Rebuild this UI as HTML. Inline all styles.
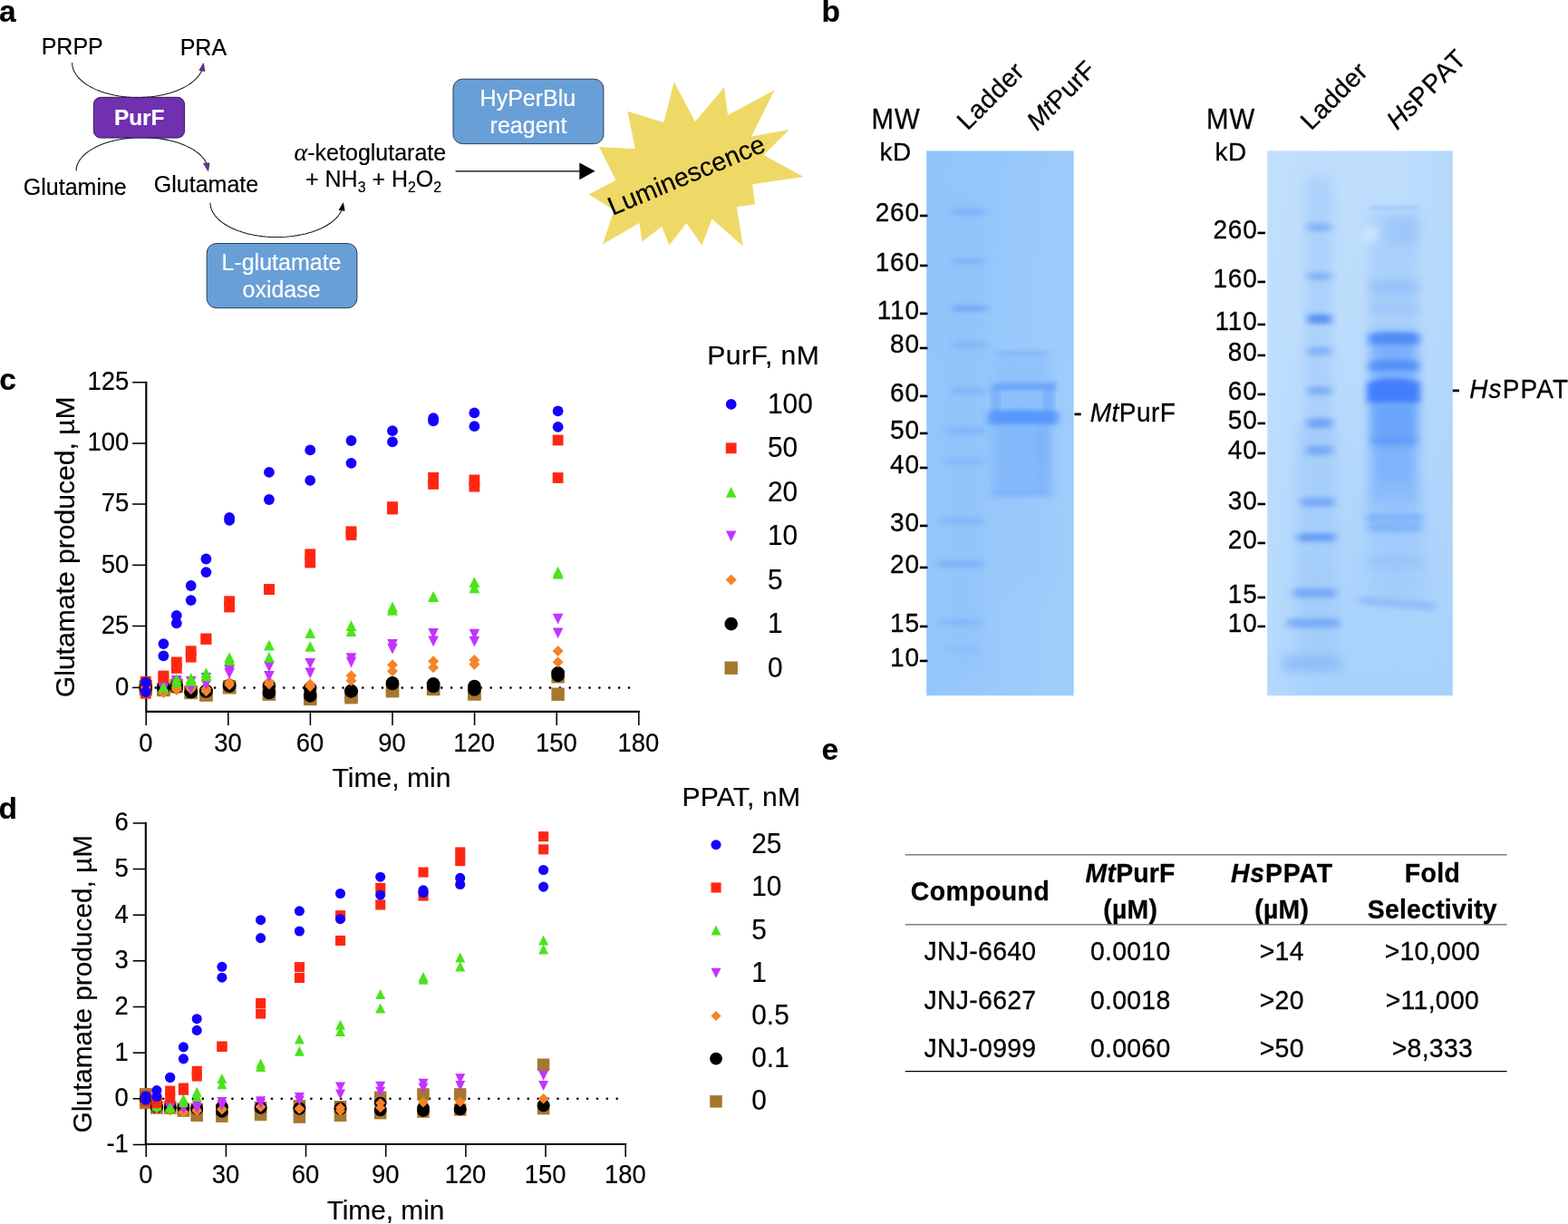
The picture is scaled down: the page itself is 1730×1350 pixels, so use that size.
<!DOCTYPE html>
<html lang="en">
<head>
<meta charset="utf-8">
<title>Figure</title>
<style>
html,body{margin:0;padding:0;background:#fff;}
body{width:1730px;height:1350px;overflow:hidden;}
svg{display:block;}
svg text{font-family:"Liberation Sans",sans-serif;stroke:#000;stroke-width:0.18px;stroke-linejoin:round;}
svg text[fill="#fff"]{stroke:#fff;}
svg g.hv text{stroke-width:0.28px;}
</style>
</head>
<body>
<svg width="1730" height="1350" viewBox="0 0 1730 1350" font-family='"Liberation Sans", sans-serif'>
<defs>
<filter id="b1" x="-20%" y="-200%" width="140%" height="500%"><feGaussianBlur stdDeviation="3 1.6"/></filter>
<filter id="b2" x="-20%" y="-200%" width="140%" height="500%"><feGaussianBlur stdDeviation="4 2.5"/></filter>
<filter id="b3" x="-30%" y="-50%" width="160%" height="200%"><feGaussianBlur stdDeviation="6 6"/></filter>
<filter id="b4" x="-30%" y="-50%" width="160%" height="200%"><feGaussianBlur stdDeviation="10 10"/></filter>
<clipPath id="g1c"><rect x="1022" y="166.5" width="162.5" height="600.8"/></clipPath>
<clipPath id="g2c"><rect x="1398" y="166.5" width="205" height="600.8"/></clipPath>
</defs>
<rect width="1730" height="1350" fill="#fff"/>
<g>
<path d="M79.60,69.30 L79.74,71.63 L80.14,73.96 L80.81,76.26 L81.75,78.54 L82.95,80.79 L84.41,82.99 L86.12,85.14 L88.07,87.23 L90.27,89.26 L92.69,91.21 L95.34,93.08 L98.20,94.86 L101.25,96.55 L104.50,98.13 L107.93,99.61 L111.51,100.97 L115.25,102.21 L119.13,103.34 L123.13,104.33 L127.24,105.20 L131.44,105.93 L135.71,106.52 L140.05,106.98 L144.43,107.29 L148.84,107.46 L153.26,107.49 L157.68,107.38 L162.08,107.13 L166.43,106.73 L170.74,106.20 L174.97,105.53 L179.12,104.72 L183.17,103.78 L187.10,102.71 L190.90,101.52 L194.56,100.20 L198.05,98.78 L201.38,97.24 L204.52,95.60 L207.46,93.85 L210.20,92.02 L212.72,90.11 L215.01,88.11 L217.07,86.05 L218.89,83.92 L220.46,81.74 L221.77,79.51 L222.82,77.24" fill="none" stroke="#161616" stroke-width="1.05" stroke-linejoin="round"/>
<polygon points="224.4,69.8 219.9,77.6 226.0,78.4" fill="#7030a0" stroke="#2b1440" stroke-width="0.7" stroke-linejoin="miter"/>
<path d="M84.10,188.40 L84.23,186.17 L84.64,183.94 L85.30,181.73 L86.24,179.55 L87.43,177.40 L88.88,175.29 L90.58,173.22 L92.52,171.22 L94.70,169.27 L97.11,167.40 L99.75,165.61 L102.59,163.90 L105.63,162.27 L108.86,160.75 L112.27,159.33 L115.84,158.01 L119.56,156.81 L123.43,155.72 L127.41,154.75 L131.50,153.91 L135.69,153.20 L139.96,152.61 L144.28,152.16 L148.66,151.84 L153.06,151.65 L157.48,151.60 L161.90,151.69 L166.30,151.91 L170.66,152.26 L174.97,152.75 L179.22,153.37 L183.38,154.12 L187.45,155.00 L191.40,156.00 L195.23,157.11 L198.92,158.35 L202.45,159.69 L205.81,161.14 L208.99,162.69 L211.98,164.34 L214.77,166.07 L217.34,167.89 L219.69,169.78 L221.81,171.74 L223.69,173.76 L225.33,175.84 L226.71,177.96 L227.83,180.12" fill="none" stroke="#161616" stroke-width="1.05" stroke-linejoin="round"/>
<polygon points="229.7,188.6 224.5,180.2 230.9,179.9" fill="#7030a0" stroke="#2b1440" stroke-width="0.7" stroke-linejoin="miter"/>
<path d="M232.00,223.70 L232.14,226.01 L232.55,228.32 L233.23,230.61 L234.18,232.87 L235.39,235.10 L236.87,237.28 L238.60,239.42 L240.58,241.49 L242.80,243.50 L245.26,245.44 L247.93,247.29 L250.83,249.06 L253.92,250.73 L257.21,252.30 L260.68,253.77 L264.31,255.12 L268.10,256.36 L272.02,257.47 L276.07,258.46 L280.23,259.31 L284.48,260.04 L288.81,260.63 L293.20,261.08 L297.64,261.39 L302.10,261.56 L306.58,261.59 L311.05,261.48 L315.50,261.23 L319.91,260.84 L324.27,260.31 L328.56,259.64 L332.76,258.84 L336.86,257.91 L340.84,256.85 L344.68,255.66 L348.38,254.36 L351.92,252.94 L355.29,251.42 L358.47,249.79 L361.45,248.06 L364.22,246.24 L366.77,244.34 L369.10,242.36 L371.18,240.31 L373.02,238.20 L374.61,236.04 L375.93,233.83 L377.00,231.58" fill="none" stroke="#161616" stroke-width="1.05" stroke-linejoin="round"/>
<polygon points="378.6,223.8 374.1,231.5 380.2,232.3" fill="#000" stroke="#000" stroke-width="0.7" stroke-linejoin="miter"/>
<rect x="103.3" y="107.3" width="100.3" height="44.8" rx="7.8" ry="7.8" fill="#7030b0" stroke="#2a1040" stroke-width="0.9"/>
<text x="153.7" y="137.8" font-size="24.4" text-anchor="middle" font-weight="bold" fill="#fff" >PurF</text>
<text x="45.7" y="60.3" font-size="25" text-anchor="start" font-weight="normal" fill="#000" >PRPP</text>
<text x="198.7" y="61.1" font-size="25" text-anchor="start" font-weight="normal" fill="#000" >PRA</text>
<text x="25.8" y="215.1" font-size="25" text-anchor="start" font-weight="normal" fill="#000" >Glutamine</text>
<text x="169.8" y="212.2" font-size="25" text-anchor="start" font-weight="normal" fill="#000" >Glutamate</text>
<text x="324.6" y="176.8" font-size="25"><tspan font-family='"Liberation Serif", "DejaVu Serif", serif' font-style="italic" font-size="28">α</tspan>-ketoglutarate</text>
<text x="337.0" y="206.3" font-size="25">+ NH<tspan font-size="15.8" dy="5.2">3</tspan><tspan dy="-5.2"> + H</tspan><tspan font-size="15.8" dy="5.2">2</tspan><tspan dy="-5.2">O</tspan><tspan font-size="15.8" dy="5.2">2</tspan></text>
<rect x="228.2" y="268.5" width="165.7" height="71.2" rx="10.5" ry="10.5" fill="#699fd7" stroke="#1c2e45" stroke-width="0.9"/>
<text x="310.5" y="297.9" font-size="25" text-anchor="middle" font-weight="normal" fill="#fff" >L-glutamate</text>
<text x="310.6" y="327.7" font-size="25" text-anchor="middle" font-weight="normal" fill="#fff" >oxidase</text>
<rect x="500.0" y="87.2" width="165.9" height="71.4" rx="10.5" ry="10.5" fill="#699fd7" stroke="#1c2e45" stroke-width="0.9"/>
<text x="582.4" y="116.7" font-size="25" text-anchor="middle" font-weight="normal" fill="#fff" >HyPerBlu</text>
<text x="583.0" y="146.5" font-size="25" text-anchor="middle" font-weight="normal" fill="#fff" >reagent</text>
<line x1="502.6" y1="188.8" x2="642" y2="188.8" stroke="#000" stroke-width="1.3"/>
<polygon points="656.6,188.8 639.3,179.4 639.3,198.2" fill="#000"/>
<polygon points="743.7,90.5 767.0,134.1 799.0,96.2 803.1,126.9 854.6,99.2 829.1,150.6 870.7,143.1 842.6,170.9 886.5,195.0 830.1,203.2 833.1,225.5 812.8,228.0 819.9,271.6 785.5,241.6 774.5,270.6 757.2,246.1 738.4,270.6 730.2,249.8 708.4,266.4 705.4,246.1 664.8,269.4 677.6,231.8 649.8,214.5 679.4,198.7 661.0,161.9 700.9,164.2 692.3,122.8 732.4,134.9" fill="#efd966"/>
<text transform="translate(675.8 238.0) rotate(-22.8)" font-size="28.7">Luminescence</text>
</g>
<g class="hv">
<linearGradient id="g1g" x1="0" y1="0" x2="1" y2="0.35"><stop offset="0" stop-color="#92c4fb"/><stop offset="0.5" stop-color="#97c8fb"/><stop offset="1" stop-color="#9eccfb"/></linearGradient>
<rect x="1022.2" y="166.4" width="162.5" height="600.8" fill="url(#g1g)"/>
<g clip-path="url(#g1c)">
<rect x="1048.0" y="220.0" width="36.0" height="520.0" rx="3.0" fill="#8cbdf9" opacity="0.3" filter="url(#b3)"/>
<rect x="1051.5" y="230.0" width="36.0" height="7.0" rx="3.0" fill="#6fa6f8" opacity="0.6" filter="url(#b2)"/>
<rect x="1051.5" y="285.1" width="36.0" height="7.0" rx="3.0" fill="#6fa6f8" opacity="0.5" filter="url(#b2)"/>
<rect x="1050.5" y="336.7" width="38.0" height="7.0" rx="3.0" fill="#6fa6f8" opacity="0.9" filter="url(#b2)"/>
<rect x="1051.5" y="376.9" width="36.0" height="7.0" rx="3.0" fill="#6fa6f8" opacity="0.45" filter="url(#b2)"/>
<rect x="1049.5" y="427.5" width="37.0" height="7.0" rx="3.0" fill="#6fa6f8" opacity="0.5" filter="url(#b2)"/>
<rect x="1044.5" y="471.4" width="42.0" height="7.0" rx="3.0" fill="#6fa6f8" opacity="0.55" filter="url(#b2)"/>
<rect x="1041.5" y="505.9" width="44.0" height="7.0" rx="3.0" fill="#6fa6f8" opacity="0.4" filter="url(#b2)"/>
<rect x="1037.5" y="571.3" width="47.0" height="7.0" rx="3.0" fill="#6fa6f8" opacity="0.5" filter="url(#b2)"/>
<rect x="1034.5" y="618.4" width="51.0" height="7.0" rx="3.0" fill="#6fa6f8" opacity="0.65" filter="url(#b2)"/>
<rect x="1035.5" y="682.7" width="47.0" height="7.0" rx="3.0" fill="#6fa6f8" opacity="0.4" filter="url(#b2)"/>
<rect x="1039.5" y="712.5" width="42.0" height="7.0" rx="3.0" fill="#6fa6f8" opacity="0.2" filter="url(#b2)"/>
<rect x="1095.0" y="466.0" width="64.0" height="80.0" rx="3.0" fill="#7cb2fa" opacity="0.75" filter="url(#b3)"/>
<rect x="1145.5" y="460.0" width="13.0" height="76.0" rx="3.0" fill="#72aaf9" opacity="0.35" filter="url(#b3)"/>
<rect x="1099.0" y="394.0" width="58.0" height="36.0" rx="3.0" fill="#86b8fa" opacity="0.45" filter="url(#b3)"/>
<rect x="1098.5" y="387.6" width="60.0" height="5.5" rx="2.8" fill="#74aaf8" opacity="0.6" filter="url(#b2)"/>
<rect x="1099.0" y="434.0" width="60.0" height="16.0" rx="3.0" fill="#86b9fb" opacity="0.6" filter="url(#b2)"/>
<rect x="1094.0" y="428.0" width="9.0" height="30.0" rx="3.0" fill="#69a4fb" opacity="0.75" filter="url(#b2)"/>
<rect x="1152.5" y="424.0" width="10.0" height="34.0" rx="3.0" fill="#69a4fb" opacity="0.75" filter="url(#b2)"/>
<rect x="1156.5" y="419.5" width="8.0" height="6.0" rx="3.0" fill="#69a4fb" opacity="0.6" filter="url(#b2)"/>
<path d="M1094.0 423.4 Q1129.0 420.8 1164.0 423.4 L1164.0 431.2 Q1129.0 430.4 1094.0 431.2 Z" fill="#66a2fb" opacity="0.9" filter="url(#b2)"/>
<path d="M1090.0 453.5 Q1128.5 449.6 1167.0 453.5 L1167.0 468.4 Q1128.5 467.2 1090.0 468.4 Z" fill="#5c9bfc" opacity="1.0" filter="url(#b2)"/>
<rect x="1096.5" y="455.5" width="64.0" height="10.0" rx="3.0" fill="#5596fc" opacity="0.8" filter="url(#b2)"/>
<rect x="1093.0" y="539.8" width="68.0" height="7.5" rx="3.0" fill="#78aef9" opacity="0.6" filter="url(#b2)"/>
<rect x="1098.0" y="560.0" width="60.0" height="80.0" rx="3.0" fill="#92c3fa" opacity="0.25" filter="url(#b4)"/>
</g>
<linearGradient id="g2g" x1="0" y1="0" x2="0" y2="1"><stop offset="0" stop-color="#bfdefd"/><stop offset="0.3" stop-color="#bcdcfc"/><stop offset="0.6" stop-color="#b3d8fc"/><stop offset="1" stop-color="#a7d2fc"/></linearGradient>
<linearGradient id="g2h" x1="0" y1="0" x2="1" y2="0"><stop offset="0" stop-color="#c4e2fe" stop-opacity="0.5"/><stop offset="0.25" stop-color="#c4e2fe" stop-opacity="0"/><stop offset="0.7" stop-color="#a9d2fb" stop-opacity="0"/><stop offset="1" stop-color="#a9d2fb" stop-opacity="0.45"/></linearGradient>
<rect x="1398.3" y="166.4" width="204.5" height="600.8" fill="url(#g2g)"/>
<rect x="1398.3" y="166.4" width="204.5" height="600.8" fill="url(#g2h)"/>
<g clip-path="url(#g2c)">
<rect x="1441.0" y="195.0" width="28.0" height="300.0" rx="3.0" fill="#a1caf9" opacity="0.6" filter="url(#b3)"/>
<rect x="1431.0" y="470.0" width="44.0" height="260.0" rx="3.0" fill="#9dc8f9" opacity="0.55" filter="url(#b3)"/>
<rect x="1442.0" y="246.4" width="26.0" height="8.5" rx="3.0" fill="#5b93f5" opacity="0.5" filter="url(#b2)"/>
<rect x="1443.0" y="300.4" width="26.0" height="8.5" rx="3.0" fill="#5b93f5" opacity="0.5" filter="url(#b2)"/>
<rect x="1443.0" y="346.4" width="26.0" height="10.5" rx="3.0" fill="#5b93f5" opacity="1.0" filter="url(#b2)"/>
<rect x="1443.0" y="382.8" width="26.0" height="9.0" rx="3.0" fill="#5b93f5" opacity="0.5" filter="url(#b2)"/>
<rect x="1443.0" y="426.2" width="26.0" height="9.5" rx="3.0" fill="#5b93f5" opacity="0.55" filter="url(#b2)"/>
<rect x="1442.0" y="461.6" width="28.0" height="10.5" rx="3.0" fill="#5b93f5" opacity="0.7" filter="url(#b2)"/>
<rect x="1441.0" y="491.4" width="29.0" height="10.5" rx="3.0" fill="#5b93f5" opacity="0.6" filter="url(#b2)"/>
<rect x="1436.0" y="548.5" width="36.0" height="10.5" rx="3.0" fill="#5b93f5" opacity="0.6" filter="url(#b2)"/>
<rect x="1432.0" y="588.0" width="41.0" height="9.5" rx="3.0" fill="#5b93f5" opacity="0.8" filter="url(#b2)"/>
<rect x="1427.0" y="648.8" width="47.0" height="10.5" rx="3.0" fill="#5b93f5" opacity="0.6" filter="url(#b2)"/>
<rect x="1420.0" y="682.0" width="58.0" height="10.5" rx="3.0" fill="#5b93f5" opacity="0.55" filter="url(#b2)"/>
<rect x="1415.0" y="723.5" width="64.0" height="17.0" rx="3.0" fill="#86b6f8" opacity="0.75" filter="url(#b3)"/>
<rect x="1511.0" y="235.0" width="54.0" height="130.0" rx="3.0" fill="#a3ccfa" opacity="0.7" filter="url(#b3)"/>
<rect x="1532.0" y="239.0" width="32.0" height="30.0" rx="3.0" fill="#96c0f8" opacity="0.6" filter="url(#b3)"/>
<rect x="1511.5" y="227.7" width="54.0" height="3.0" rx="1.5" fill="#93bdf7" opacity="0.7" filter="url(#b1)"/>
<circle cx="1512.5" cy="258" r="7" fill="#e8f3fe" opacity="0.9" filter="url(#b3)"/>
<rect x="1512.0" y="365.0" width="52.0" height="86.0" rx="3.0" fill="#6ea9fc" opacity="0.85" filter="url(#b3)"/>
<rect x="1512.0" y="440.0" width="52.0" height="120.0" rx="3.0" fill="#73abfb" opacity="0.8" filter="url(#b3)"/>
<rect x="1514.0" y="445.0" width="48.0" height="46.0" rx="3.0" fill="#5f9dfb" opacity="0.65" filter="url(#b3)"/>
<rect x="1510.0" y="535.0" width="60.0" height="130.0" rx="3.0" fill="#9ac7fa" opacity="0.6" filter="url(#b4)"/>
<rect x="1511.0" y="311.3" width="54.0" height="12.0" rx="3.0" fill="#84b4f8" opacity="0.65" filter="url(#b3)"/>
<rect x="1511.0" y="334.5" width="54.0" height="10.0" rx="3.0" fill="#8ab8f9" opacity="0.55" filter="url(#b3)"/>
<path d="M1511.0 368.1 Q1538.0 365.0 1565.0 368.1 L1565.0 379.8 Q1538.0 378.8 1511.0 379.8 Z" fill="#4f89f6" opacity="0.95" filter="url(#b2)"/>
<path d="M1511.0 398.8 Q1538.0 394.9 1565.0 398.8 L1565.0 409.2 Q1538.0 408.0 1511.0 409.2 Z" fill="#538df7" opacity="0.9" filter="url(#b2)"/>
<path d="M1509.5 421.3 Q1537.5 413.5 1565.5 421.3 L1565.5 444.2 Q1537.5 441.8 1509.5 444.2 Z" fill="#4680fc" opacity="1.0" filter="url(#b2)"/>
<rect x="1512.5" y="424.0" width="50.0" height="17.0" rx="3.0" fill="#437efd" opacity="0.85" filter="url(#b2)"/>
<rect x="1513.0" y="482.0" width="50.0" height="8.0" rx="3.0" fill="#5793f9" opacity="0.5" filter="url(#b2)"/>
<rect x="1509.0" y="567.1" width="60.0" height="8.5" rx="3.0" fill="#6ea5f8" opacity="0.8" filter="url(#b2)"/>
<rect x="1510.0" y="565.0" width="58.0" height="22.0" rx="3.0" fill="#8ab9fa" opacity="0.6" filter="url(#b3)"/>
<rect x="1510.0" y="577.8" width="58.0" height="8.5" rx="3.0" fill="#76abf8" opacity="0.65" filter="url(#b2)"/>
<rect x="1506.0" y="612.4" width="66.0" height="12.0" rx="3.0" fill="#8ebbf9" opacity="0.55" filter="url(#b3)"/>
<rect x="1500.0" y="660.5" width="84.0" height="10.0" rx="3.0" fill="#8bb9f9" opacity="0.75" filter="url(#b2)" transform="rotate(5 1542.0 665.5)"/>
</g>
<text transform="translate(988.6 141.8) scale(1.05 1.1)" font-size="28" text-anchor="middle" letter-spacing="1.0">MW</text>
<text transform="translate(988.2 177.3) scale(1.0 1.0)" font-size="28" text-anchor="middle" letter-spacing="0.5">kD</text>
<text transform="translate(1014.9 244.2) scale(1 1.08)" font-size="28" text-anchor="end" letter-spacing="0.85">260</text>
<text transform="translate(1013.4 245.3) scale(1.2 1)" font-size="28" text-anchor="start">-</text>
<text transform="translate(1014.9 299.0) scale(1 1.08)" font-size="28" text-anchor="end" letter-spacing="0.85">160</text>
<text transform="translate(1013.4 300.1) scale(1.2 1)" font-size="28" text-anchor="start">-</text>
<text transform="translate(1014.9 352.3) scale(1 1.08)" font-size="28" text-anchor="end" letter-spacing="0.85">110</text>
<text transform="translate(1013.4 353.4) scale(1.2 1)" font-size="28" text-anchor="start">-</text>
<text transform="translate(1014.9 389.4) scale(1 1.08)" font-size="28" text-anchor="end" letter-spacing="0.85">80</text>
<text transform="translate(1013.4 390.5) scale(1.2 1)" font-size="28" text-anchor="start">-</text>
<text transform="translate(1014.9 442.8) scale(1 1.08)" font-size="28" text-anchor="end" letter-spacing="0.85">60</text>
<text transform="translate(1013.4 443.9) scale(1.2 1)" font-size="28" text-anchor="start">-</text>
<text transform="translate(1014.9 484.2) scale(1 1.08)" font-size="28" text-anchor="end" letter-spacing="0.85">50</text>
<text transform="translate(1013.4 485.3) scale(1.2 1)" font-size="28" text-anchor="start">-</text>
<text transform="translate(1014.9 522.2) scale(1 1.08)" font-size="28" text-anchor="end" letter-spacing="0.85">40</text>
<text transform="translate(1013.4 523.3) scale(1.2 1)" font-size="28" text-anchor="start">-</text>
<text transform="translate(1014.9 585.9) scale(1 1.08)" font-size="28" text-anchor="end" letter-spacing="0.85">30</text>
<text transform="translate(1013.4 587.0) scale(1.2 1)" font-size="28" text-anchor="start">-</text>
<text transform="translate(1014.9 631.8) scale(1 1.08)" font-size="28" text-anchor="end" letter-spacing="0.85">20</text>
<text transform="translate(1013.4 632.9) scale(1.2 1)" font-size="28" text-anchor="start">-</text>
<text transform="translate(1014.9 696.9) scale(1 1.08)" font-size="28" text-anchor="end" letter-spacing="0.85">15</text>
<text transform="translate(1013.4 698.0) scale(1.2 1)" font-size="28" text-anchor="start">-</text>
<text transform="translate(1014.9 734.6) scale(1 1.08)" font-size="28" text-anchor="end" letter-spacing="0.85">10</text>
<text transform="translate(1013.4 735.7) scale(1.2 1)" font-size="28" text-anchor="start">-</text>
<text transform="translate(1067.6 144.7) rotate(-45)" font-size="28.4" letter-spacing="0.4">Ladder</text>
<text transform="translate(1144.2 145.0) rotate(-45)" font-size="28.2" letter-spacing="0.25"><tspan font-style="italic">Mt</tspan>PurF</text>
<text transform="translate(1184.6 465.2) scale(1.0 1.03)" font-size="28" text-anchor="start" letter-spacing="0.5">- <tspan font-style="italic">Mt</tspan>PurF</text>
<text transform="translate(1358.1 141.8) scale(1.05 1.1)" font-size="28" text-anchor="middle" letter-spacing="1.0">MW</text>
<text transform="translate(1358.0 177.3) scale(1.0 1.0)" font-size="28" text-anchor="middle" letter-spacing="0.5">kD</text>
<text transform="translate(1387.7 262.6) scale(1 1.08)" font-size="28" text-anchor="end" letter-spacing="0.85">260</text>
<text transform="translate(1386.3 263.7) scale(1.2 1)" font-size="28" text-anchor="start">-</text>
<text transform="translate(1387.7 317.1) scale(1 1.08)" font-size="28" text-anchor="end" letter-spacing="0.85">160</text>
<text transform="translate(1386.3 318.2) scale(1.2 1)" font-size="28" text-anchor="start">-</text>
<text transform="translate(1387.7 364.2) scale(1 1.08)" font-size="28" text-anchor="end" letter-spacing="0.85">110</text>
<text transform="translate(1386.3 365.3) scale(1.2 1)" font-size="28" text-anchor="start">-</text>
<text transform="translate(1387.7 397.7) scale(1 1.08)" font-size="28" text-anchor="end" letter-spacing="0.85">80</text>
<text transform="translate(1386.3 398.8) scale(1.2 1)" font-size="28" text-anchor="start">-</text>
<text transform="translate(1387.7 440.7) scale(1 1.08)" font-size="28" text-anchor="end" letter-spacing="0.85">60</text>
<text transform="translate(1386.3 441.8) scale(1.2 1)" font-size="28" text-anchor="start">-</text>
<text transform="translate(1387.7 473.3) scale(1 1.08)" font-size="28" text-anchor="end" letter-spacing="0.85">50</text>
<text transform="translate(1386.3 474.4) scale(1.2 1)" font-size="28" text-anchor="start">-</text>
<text transform="translate(1387.7 505.9) scale(1 1.08)" font-size="28" text-anchor="end" letter-spacing="0.85">40</text>
<text transform="translate(1386.3 507.0) scale(1.2 1)" font-size="28" text-anchor="start">-</text>
<text transform="translate(1387.7 562.2) scale(1 1.08)" font-size="28" text-anchor="end" letter-spacing="0.85">30</text>
<text transform="translate(1386.3 563.3) scale(1.2 1)" font-size="28" text-anchor="start">-</text>
<text transform="translate(1387.7 605.1) scale(1 1.08)" font-size="28" text-anchor="end" letter-spacing="0.85">20</text>
<text transform="translate(1386.3 606.2) scale(1.2 1)" font-size="28" text-anchor="start">-</text>
<text transform="translate(1387.7 665.2) scale(1 1.08)" font-size="28" text-anchor="end" letter-spacing="0.85">15</text>
<text transform="translate(1386.3 666.3) scale(1.2 1)" font-size="28" text-anchor="start">-</text>
<text transform="translate(1387.7 696.9) scale(1 1.08)" font-size="28" text-anchor="end" letter-spacing="0.85">10</text>
<text transform="translate(1386.3 698.0) scale(1.2 1)" font-size="28" text-anchor="start">-</text>
<text transform="translate(1446.5 144.7) rotate(-45)" font-size="28.4" letter-spacing="0.4">Ladder</text>
<text transform="translate(1541.6 144.3) rotate(-45)" font-size="28.6" letter-spacing="1.4"><tspan font-style="italic" letter-spacing="0">Hs</tspan>PPAT</text>
<text transform="translate(1601.8 439.0) scale(1.0 1.04)" font-size="28" text-anchor="start" letter-spacing="1.15">- <tspan font-style="italic">Hs</tspan>PPAT</text>
</g>
<g>
<line x1="160.9" y1="758.6" x2="695.0" y2="758.6" stroke="#000" stroke-width="2.7" stroke-linecap="round" stroke-dasharray="0 10.88"/>
<path d="M161.3 421.7 V784.9 H704.8" stroke="#000" stroke-width="2.1" fill="none" stroke-linecap="square"/>
<line x1="161.2" y1="784.9" x2="161.2" y2="799.9" stroke="#000" stroke-width="1.55" fill="none" stroke-linecap="butt"/>
<text transform="translate(160.8 828.9) scale(1 1.045)" font-size="27.4" text-anchor="middle" font-weight="normal" fill="#000" >0</text>
<line x1="251.8" y1="784.9" x2="251.8" y2="799.9" stroke="#000" stroke-width="1.55" fill="none" stroke-linecap="butt"/>
<text transform="translate(251.4 828.9) scale(1 1.045)" font-size="27.4" text-anchor="middle" font-weight="normal" fill="#000" >30</text>
<line x1="342.4" y1="784.9" x2="342.4" y2="799.9" stroke="#000" stroke-width="1.55" fill="none" stroke-linecap="butt"/>
<text transform="translate(342.0 828.9) scale(1 1.045)" font-size="27.4" text-anchor="middle" font-weight="normal" fill="#000" >60</text>
<line x1="433.0" y1="784.9" x2="433.0" y2="799.9" stroke="#000" stroke-width="1.55" fill="none" stroke-linecap="butt"/>
<text transform="translate(432.6 828.9) scale(1 1.045)" font-size="27.4" text-anchor="middle" font-weight="normal" fill="#000" >90</text>
<line x1="523.6" y1="784.9" x2="523.6" y2="799.9" stroke="#000" stroke-width="1.55" fill="none" stroke-linecap="butt"/>
<text transform="translate(523.2 828.9) scale(1 1.045)" font-size="27.4" text-anchor="middle" font-weight="normal" fill="#000" >120</text>
<line x1="614.2" y1="784.9" x2="614.2" y2="799.9" stroke="#000" stroke-width="1.55" fill="none" stroke-linecap="butt"/>
<text transform="translate(613.8 828.9) scale(1 1.045)" font-size="27.4" text-anchor="middle" font-weight="normal" fill="#000" >150</text>
<line x1="704.8" y1="784.9" x2="704.8" y2="799.9" stroke="#000" stroke-width="1.55" fill="none" stroke-linecap="butt"/>
<text transform="translate(704.4 828.9) scale(1 1.045)" font-size="27.4" text-anchor="middle" font-weight="normal" fill="#000" >180</text>
<line x1="146.1" y1="421.7" x2="161.3" y2="421.7" stroke="#000" stroke-width="1.55" fill="none" stroke-linecap="butt"/>
<text transform="translate(142.3 430.0) scale(1 1.045)" font-size="27.4" text-anchor="end" font-weight="normal" fill="#000" >125</text>
<line x1="146.1" y1="489.0" x2="161.3" y2="489.0" stroke="#000" stroke-width="1.55" fill="none" stroke-linecap="butt"/>
<text transform="translate(142.3 497.3) scale(1 1.045)" font-size="27.4" text-anchor="end" font-weight="normal" fill="#000" >100</text>
<line x1="146.1" y1="556.0" x2="161.3" y2="556.0" stroke="#000" stroke-width="1.55" fill="none" stroke-linecap="butt"/>
<text transform="translate(142.3 564.3) scale(1 1.045)" font-size="27.4" text-anchor="end" font-weight="normal" fill="#000" >75</text>
<line x1="146.1" y1="623.3" x2="161.3" y2="623.3" stroke="#000" stroke-width="1.55" fill="none" stroke-linecap="butt"/>
<text transform="translate(142.3 631.6) scale(1 1.045)" font-size="27.4" text-anchor="end" font-weight="normal" fill="#000" >50</text>
<line x1="146.1" y1="690.5" x2="161.3" y2="690.5" stroke="#000" stroke-width="1.55" fill="none" stroke-linecap="butt"/>
<text transform="translate(142.3 698.8) scale(1 1.045)" font-size="27.4" text-anchor="end" font-weight="normal" fill="#000" >25</text>
<line x1="146.1" y1="758.4" x2="161.3" y2="758.4" stroke="#000" stroke-width="1.55" fill="none" stroke-linecap="butt"/>
<text transform="translate(142.3 766.7) scale(1 1.045)" font-size="27.4" text-anchor="end" font-weight="normal" fill="#000" >0</text>
<rect x="153.6" y="749.8" width="14.4" height="14.4" fill="#a5772f"/>
<rect x="153.6" y="752.8" width="14.4" height="14.4" fill="#a5772f"/>
<rect x="173.2" y="752.8" width="14.4" height="14.4" fill="#a5772f"/>
<rect x="173.2" y="753.8" width="14.4" height="14.4" fill="#a5772f"/>
<rect x="187.6" y="748.8" width="14.4" height="14.4" fill="#a5772f"/>
<rect x="187.6" y="749.8" width="14.4" height="14.4" fill="#a5772f"/>
<rect x="203.5" y="755.8" width="14.4" height="14.4" fill="#a5772f"/>
<rect x="203.5" y="756.8" width="14.4" height="14.4" fill="#a5772f"/>
<rect x="220.2" y="758.5" width="14.4" height="14.4" fill="#a5772f"/>
<rect x="220.2" y="759.4" width="14.4" height="14.4" fill="#a5772f"/>
<rect x="245.9" y="750.4" width="14.4" height="14.4" fill="#a5772f"/>
<rect x="245.9" y="751.1" width="14.4" height="14.4" fill="#a5772f"/>
<rect x="289.7" y="757.3" width="14.4" height="14.4" fill="#a5772f"/>
<rect x="289.7" y="758.5" width="14.4" height="14.4" fill="#a5772f"/>
<rect x="335.0" y="762.0" width="14.4" height="14.4" fill="#a5772f"/>
<rect x="335.0" y="763.7" width="14.4" height="14.4" fill="#a5772f"/>
<rect x="380.3" y="760.2" width="14.4" height="14.4" fill="#a5772f"/>
<rect x="380.3" y="762.0" width="14.4" height="14.4" fill="#a5772f"/>
<rect x="425.8" y="754.2" width="14.4" height="14.4" fill="#a5772f"/>
<rect x="425.8" y="755.0" width="14.4" height="14.4" fill="#a5772f"/>
<rect x="470.9" y="752.4" width="14.4" height="14.4" fill="#a5772f"/>
<rect x="470.9" y="752.8" width="14.4" height="14.4" fill="#a5772f"/>
<rect x="516.2" y="757.8" width="14.4" height="14.4" fill="#a5772f"/>
<rect x="516.2" y="758.3" width="14.4" height="14.4" fill="#a5772f"/>
<rect x="608.4" y="739.1" width="14.4" height="14.4" fill="#a5772f"/>
<rect x="608.4" y="758.5" width="14.4" height="14.4" fill="#a5772f"/>
<circle cx="160.8" cy="758.0" r="7.3" fill="#000"/>
<circle cx="160.8" cy="759.0" r="7.3" fill="#000"/>
<circle cx="180.4" cy="758.0" r="7.3" fill="#000"/>
<circle cx="180.4" cy="759.0" r="7.3" fill="#000"/>
<circle cx="194.8" cy="757.0" r="7.3" fill="#000"/>
<circle cx="194.8" cy="758.0" r="7.3" fill="#000"/>
<circle cx="210.7" cy="763.0" r="7.3" fill="#000"/>
<circle cx="210.7" cy="763.0" r="7.3" fill="#000"/>
<circle cx="227.4" cy="762.0" r="7.3" fill="#000"/>
<circle cx="227.4" cy="762.5" r="7.3" fill="#000"/>
<circle cx="253.1" cy="756.0" r="7.3" fill="#000"/>
<circle cx="253.1" cy="756.5" r="7.3" fill="#000"/>
<circle cx="296.9" cy="756.2" r="7.3" fill="#000"/>
<circle cx="296.9" cy="764.0" r="7.3" fill="#000"/>
<circle cx="342.2" cy="758.8" r="7.3" fill="#000"/>
<circle cx="342.2" cy="767.4" r="7.3" fill="#000"/>
<circle cx="387.5" cy="762.0" r="7.3" fill="#000"/>
<circle cx="387.5" cy="762.4" r="7.3" fill="#000"/>
<circle cx="433.0" cy="753.4" r="7.3" fill="#000"/>
<circle cx="433.0" cy="754.0" r="7.3" fill="#000"/>
<circle cx="478.1" cy="754.4" r="7.3" fill="#000"/>
<circle cx="478.1" cy="757.0" r="7.3" fill="#000"/>
<circle cx="523.4" cy="757.0" r="7.3" fill="#000"/>
<circle cx="523.4" cy="760.5" r="7.3" fill="#000"/>
<circle cx="615.6" cy="742.3" r="7.3" fill="#000"/>
<circle cx="615.6" cy="744.9" r="7.3" fill="#000"/>
<polygon points="154.8,758.0 160.8,752.0 166.8,758.0 160.8,764.0" fill="#f58426"/>
<polygon points="154.8,760.0 160.8,754.0 166.8,760.0 160.8,766.0" fill="#f58426"/>
<polygon points="174.4,762.0 180.4,756.0 186.4,762.0 180.4,768.0" fill="#f58426"/>
<polygon points="174.4,764.0 180.4,758.0 186.4,764.0 180.4,770.0" fill="#f58426"/>
<polygon points="188.8,759.0 194.8,753.0 200.8,759.0 194.8,765.0" fill="#f58426"/>
<polygon points="188.8,761.0 194.8,755.0 200.8,761.0 194.8,767.0" fill="#f58426"/>
<polygon points="204.7,758.0 210.7,752.0 216.7,758.0 210.7,764.0" fill="#f58426"/>
<polygon points="204.7,760.0 210.7,754.0 216.7,760.0 210.7,766.0" fill="#f58426"/>
<polygon points="221.4,759.6 227.4,753.6 233.4,759.6 227.4,765.6" fill="#f58426"/>
<polygon points="221.4,762.2 227.4,756.2 233.4,762.2 227.4,768.2" fill="#f58426"/>
<polygon points="247.1,752.7 253.1,746.7 259.1,752.7 253.1,758.7" fill="#f58426"/>
<polygon points="247.1,755.3 253.1,749.3 259.1,755.3 253.1,761.3" fill="#f58426"/>
<polygon points="290.9,751.8 296.9,745.8 302.9,751.8 296.9,757.8" fill="#f58426"/>
<polygon points="290.9,754.4 296.9,748.4 302.9,754.4 296.9,760.4" fill="#f58426"/>
<polygon points="336.2,754.4 342.2,748.4 348.2,754.4 342.2,760.4" fill="#f58426"/>
<polygon points="336.2,757.0 342.2,751.0 348.2,757.0 342.2,763.0" fill="#f58426"/>
<polygon points="381.5,745.3 387.5,739.3 393.5,745.3 387.5,751.3" fill="#f58426"/>
<polygon points="381.5,750.8 387.5,744.8 393.5,750.8 387.5,756.8" fill="#f58426"/>
<polygon points="427.0,733.3 433.0,727.3 439.0,733.3 433.0,739.3" fill="#f58426"/>
<polygon points="427.0,740.2 433.0,734.2 439.0,740.2 433.0,746.2" fill="#f58426"/>
<polygon points="472.1,729.3 478.1,723.3 484.1,729.3 478.1,735.3" fill="#f58426"/>
<polygon points="472.1,736.2 478.1,730.2 484.1,736.2 478.1,742.2" fill="#f58426"/>
<polygon points="517.4,728.1 523.4,722.1 529.4,728.1 523.4,734.1" fill="#f58426"/>
<polygon points="517.4,732.8 523.4,726.8 529.4,732.8 523.4,738.8" fill="#f58426"/>
<polygon points="609.6,718.0 615.6,712.0 621.6,718.0 615.6,724.0" fill="#f58426"/>
<polygon points="609.6,730.2 615.6,724.2 621.6,730.2 615.6,736.2" fill="#f58426"/>
<polygon points="155.0,752.1 166.6,752.1 160.8,763.9" fill="#c433ff"/>
<polygon points="155.0,753.1 166.6,753.1 160.8,764.9" fill="#c433ff"/>
<polygon points="174.6,752.1 186.2,752.1 180.4,763.9" fill="#c433ff"/>
<polygon points="174.6,754.1 186.2,754.1 180.4,765.9" fill="#c433ff"/>
<polygon points="189.0,745.1 200.6,745.1 194.8,756.9" fill="#c433ff"/>
<polygon points="189.0,747.1 200.6,747.1 194.8,758.9" fill="#c433ff"/>
<polygon points="204.9,746.1 216.5,746.1 210.7,757.9" fill="#c433ff"/>
<polygon points="204.9,753.1 216.5,753.1 210.7,764.9" fill="#c433ff"/>
<polygon points="221.6,742.1 233.2,742.1 227.4,753.9" fill="#c433ff"/>
<polygon points="221.6,749.1 233.2,749.1 227.4,760.9" fill="#c433ff"/>
<polygon points="247.3,733.7 258.9,733.7 253.1,745.5" fill="#c433ff"/>
<polygon points="247.3,736.9 258.9,736.9 253.1,748.7" fill="#c433ff"/>
<polygon points="291.1,729.5 302.7,729.5 296.9,741.3" fill="#c433ff"/>
<polygon points="291.1,740.1 302.7,740.1 296.9,751.9" fill="#c433ff"/>
<polygon points="336.4,725.9 348.0,725.9 342.2,737.7" fill="#c433ff"/>
<polygon points="336.4,736.5 348.0,736.5 342.2,748.3" fill="#c433ff"/>
<polygon points="381.7,720.3 393.3,720.3 387.5,732.1" fill="#c433ff"/>
<polygon points="381.7,724.6 393.3,724.6 387.5,736.4" fill="#c433ff"/>
<polygon points="427.2,705.1 438.8,705.1 433.0,716.9" fill="#c433ff"/>
<polygon points="427.2,709.7 438.8,709.7 433.0,721.5" fill="#c433ff"/>
<polygon points="472.3,692.9 483.9,692.9 478.1,704.7" fill="#c433ff"/>
<polygon points="472.3,701.4 483.9,701.4 478.1,713.2" fill="#c433ff"/>
<polygon points="517.6,693.7 529.2,693.7 523.4,705.5" fill="#c433ff"/>
<polygon points="517.6,701.8 529.2,701.8 523.4,713.6" fill="#c433ff"/>
<polygon points="609.8,676.8 621.4,676.8 615.6,688.6" fill="#c433ff"/>
<polygon points="609.8,692.4 621.4,692.4 615.6,704.2" fill="#c433ff"/>
<polygon points="154.9,762.9 166.7,762.9 160.8,751.1" fill="#4be31c"/>
<polygon points="154.9,764.9 166.7,764.9 160.8,753.1" fill="#4be31c"/>
<polygon points="174.5,763.7 186.3,763.7 180.4,751.9" fill="#4be31c"/>
<polygon points="174.5,763.9 186.3,763.9 180.4,752.1" fill="#4be31c"/>
<polygon points="188.9,754.9 200.7,754.9 194.8,743.1" fill="#4be31c"/>
<polygon points="188.9,758.1 200.7,758.1 194.8,746.3" fill="#4be31c"/>
<polygon points="204.8,753.7 216.6,753.7 210.7,741.9" fill="#4be31c"/>
<polygon points="204.8,756.7 216.6,756.7 210.7,744.9" fill="#4be31c"/>
<polygon points="221.5,748.1 233.3,748.1 227.4,736.3" fill="#4be31c"/>
<polygon points="221.5,751.5 233.3,751.5 227.4,739.7" fill="#4be31c"/>
<polygon points="247.2,731.0 259.0,731.0 253.1,719.2" fill="#4be31c"/>
<polygon points="247.2,733.9 259.0,733.9 253.1,722.1" fill="#4be31c"/>
<polygon points="291.0,717.4 302.8,717.4 296.9,705.6" fill="#4be31c"/>
<polygon points="291.0,730.7 302.8,730.7 296.9,718.9" fill="#4be31c"/>
<polygon points="336.3,703.9 348.1,703.9 342.2,692.1" fill="#4be31c"/>
<polygon points="336.3,718.7 348.1,718.7 342.2,706.9" fill="#4be31c"/>
<polygon points="381.6,696.1 393.4,696.1 387.5,684.3" fill="#4be31c"/>
<polygon points="381.6,702.1 393.4,702.1 387.5,690.3" fill="#4be31c"/>
<polygon points="427.1,675.4 438.9,675.4 433.0,663.6" fill="#4be31c"/>
<polygon points="427.1,678.7 438.9,678.7 433.0,666.9" fill="#4be31c"/>
<polygon points="472.2,664.1 484.0,664.1 478.1,652.3" fill="#4be31c"/>
<polygon points="472.2,664.1 484.0,664.1 478.1,652.3" fill="#4be31c"/>
<polygon points="517.5,648.1 529.3,648.1 523.4,636.3" fill="#4be31c"/>
<polygon points="517.5,654.2 529.3,654.2 523.4,642.4" fill="#4be31c"/>
<polygon points="609.7,636.5 621.5,636.5 615.6,624.7" fill="#4be31c"/>
<polygon points="609.7,638.6 621.5,638.6 615.6,626.8" fill="#4be31c"/>
<rect x="154.9" y="745.9" width="11.8" height="11.8" fill="#ff2712"/>
<rect x="154.9" y="758.9" width="11.8" height="11.8" fill="#ff2712"/>
<rect x="174.5" y="739.6" width="11.8" height="11.8" fill="#ff2712"/>
<rect x="174.5" y="741.1" width="11.8" height="11.8" fill="#ff2712"/>
<rect x="188.9" y="724.5" width="11.8" height="11.8" fill="#ff2712"/>
<rect x="188.9" y="731.0" width="11.8" height="11.8" fill="#ff2712"/>
<rect x="204.8" y="712.3" width="11.8" height="11.8" fill="#ff2712"/>
<rect x="204.8" y="718.8" width="11.8" height="11.8" fill="#ff2712"/>
<rect x="221.5" y="698.5" width="11.8" height="11.8" fill="#ff2712"/>
<rect x="221.5" y="699.1" width="11.8" height="11.8" fill="#ff2712"/>
<rect x="247.2" y="657.3" width="11.8" height="11.8" fill="#ff2712"/>
<rect x="247.2" y="663.6" width="11.8" height="11.8" fill="#ff2712"/>
<rect x="291.0" y="644.1" width="11.8" height="11.8" fill="#ff2712"/>
<rect x="291.0" y="644.1" width="11.8" height="11.8" fill="#ff2712"/>
<rect x="336.3" y="605.4" width="11.8" height="11.8" fill="#ff2712"/>
<rect x="336.3" y="614.6" width="11.8" height="11.8" fill="#ff2712"/>
<rect x="381.6" y="580.4" width="11.8" height="11.8" fill="#ff2712"/>
<rect x="381.6" y="584.1" width="11.8" height="11.8" fill="#ff2712"/>
<rect x="427.1" y="553.2" width="11.8" height="11.8" fill="#ff2712"/>
<rect x="427.1" y="555.6" width="11.8" height="11.8" fill="#ff2712"/>
<rect x="472.2" y="520.9" width="11.8" height="11.8" fill="#ff2712"/>
<rect x="472.2" y="528.0" width="11.8" height="11.8" fill="#ff2712"/>
<rect x="517.5" y="523.5" width="11.8" height="11.8" fill="#ff2712"/>
<rect x="517.5" y="530.7" width="11.8" height="11.8" fill="#ff2712"/>
<rect x="609.7" y="479.6" width="11.8" height="11.8" fill="#ff2712"/>
<rect x="609.7" y="521.1" width="11.8" height="11.8" fill="#ff2712"/>
<circle cx="160.8" cy="752.7" r="5.9" fill="#1500ff"/>
<circle cx="160.8" cy="763.1" r="5.9" fill="#1500ff"/>
<circle cx="180.4" cy="710.1" r="5.9" fill="#1500ff"/>
<circle cx="180.4" cy="723.3" r="5.9" fill="#1500ff"/>
<circle cx="194.8" cy="678.9" r="5.9" fill="#1500ff"/>
<circle cx="194.8" cy="687.3" r="5.9" fill="#1500ff"/>
<circle cx="210.7" cy="646.0" r="5.9" fill="#1500ff"/>
<circle cx="210.7" cy="662.1" r="5.9" fill="#1500ff"/>
<circle cx="227.4" cy="616.5" r="5.9" fill="#1500ff"/>
<circle cx="227.4" cy="631.1" r="5.9" fill="#1500ff"/>
<circle cx="253.1" cy="571.0" r="5.9" fill="#1500ff"/>
<circle cx="253.1" cy="573.9" r="5.9" fill="#1500ff"/>
<circle cx="296.9" cy="520.9" r="5.9" fill="#1500ff"/>
<circle cx="296.9" cy="551.0" r="5.9" fill="#1500ff"/>
<circle cx="342.2" cy="496.4" r="5.9" fill="#1500ff"/>
<circle cx="342.2" cy="529.9" r="5.9" fill="#1500ff"/>
<circle cx="387.5" cy="486.0" r="5.9" fill="#1500ff"/>
<circle cx="387.5" cy="510.8" r="5.9" fill="#1500ff"/>
<circle cx="433.0" cy="475.2" r="5.9" fill="#1500ff"/>
<circle cx="433.0" cy="487.3" r="5.9" fill="#1500ff"/>
<circle cx="478.1" cy="461.2" r="5.9" fill="#1500ff"/>
<circle cx="478.1" cy="464.3" r="5.9" fill="#1500ff"/>
<circle cx="523.4" cy="455.3" r="5.9" fill="#1500ff"/>
<circle cx="523.4" cy="470.2" r="5.9" fill="#1500ff"/>
<circle cx="615.6" cy="453.4" r="5.9" fill="#1500ff"/>
<circle cx="615.6" cy="470.9" r="5.9" fill="#1500ff"/>
<text transform="translate(81.5 603.3) rotate(-90)" font-size="30.1" text-anchor="middle">Glutamate produced, µM</text>
<text x="432.0" y="868.0" font-size="30.1" text-anchor="middle" font-weight="normal" fill="#000" >Time, min</text>
<text x="780.3" y="402.0" font-size="30.1" text-anchor="start" font-weight="normal" fill="#000" letter-spacing="0.45">PurF, nM</text>
<circle cx="806.7" cy="445.9" r="5.9" fill="#1500ff"/>
<text transform="translate(847.0 455.9) scale(1 1.045)" font-size="29.8" text-anchor="start" font-weight="normal" fill="#000" >100</text>
<rect x="800.8" y="488.4" width="11.8" height="11.8" fill="#ff2712"/>
<text transform="translate(847.0 504.3) scale(1 1.045)" font-size="29.8" text-anchor="start" font-weight="normal" fill="#000" >50</text>
<polygon points="800.8,548.8 812.6,548.8 806.7,537.0" fill="#4be31c"/>
<text transform="translate(847.0 552.9) scale(1 1.045)" font-size="29.8" text-anchor="start" font-weight="normal" fill="#000" >20</text>
<polygon points="800.9,585.4 812.5,585.4 806.7,597.2" fill="#c433ff"/>
<text transform="translate(847.0 601.3) scale(1 1.045)" font-size="29.8" text-anchor="start" font-weight="normal" fill="#000" >10</text>
<polygon points="800.7,639.6 806.7,633.6 812.7,639.6 806.7,645.6" fill="#f58426"/>
<text transform="translate(847.0 649.6) scale(1 1.045)" font-size="29.8" text-anchor="start" font-weight="normal" fill="#000" >5</text>
<circle cx="806.7" cy="688.1" r="7.3" fill="#000"/>
<text transform="translate(847.0 698.1) scale(1 1.045)" font-size="29.8" text-anchor="start" font-weight="normal" fill="#000" >1</text>
<rect x="799.5" y="729.5" width="14.4" height="14.4" fill="#a5772f"/>
<text transform="translate(847.0 746.7) scale(1 1.045)" font-size="29.8" text-anchor="start" font-weight="normal" fill="#000" >0</text>
</g>
<g>
<line x1="158.5" y1="1211.8" x2="681.8" y2="1211.8" stroke="#000" stroke-width="2.7" stroke-linecap="round" stroke-dasharray="0 10.88"/>
<path d="M160.8 907.9 V1262.0 H690.2" stroke="#000" stroke-width="2.1" fill="none" stroke-linecap="square"/>
<line x1="161.2" y1="1262.0" x2="161.2" y2="1275.9" stroke="#000" stroke-width="1.55" fill="none" stroke-linecap="butt"/>
<text transform="translate(160.8 1305.0) scale(1 1.045)" font-size="27.4" text-anchor="middle" font-weight="normal" fill="#000" >0</text>
<line x1="249.4" y1="1262.0" x2="249.4" y2="1275.9" stroke="#000" stroke-width="1.55" fill="none" stroke-linecap="butt"/>
<text transform="translate(249.0 1305.0) scale(1 1.045)" font-size="27.4" text-anchor="middle" font-weight="normal" fill="#000" >30</text>
<line x1="337.5" y1="1262.0" x2="337.5" y2="1275.9" stroke="#000" stroke-width="1.55" fill="none" stroke-linecap="butt"/>
<text transform="translate(337.1 1305.0) scale(1 1.045)" font-size="27.4" text-anchor="middle" font-weight="normal" fill="#000" >60</text>
<line x1="425.7" y1="1262.0" x2="425.7" y2="1275.9" stroke="#000" stroke-width="1.55" fill="none" stroke-linecap="butt"/>
<text transform="translate(425.3 1305.0) scale(1 1.045)" font-size="27.4" text-anchor="middle" font-weight="normal" fill="#000" >90</text>
<line x1="513.9" y1="1262.0" x2="513.9" y2="1275.9" stroke="#000" stroke-width="1.55" fill="none" stroke-linecap="butt"/>
<text transform="translate(513.5 1305.0) scale(1 1.045)" font-size="27.4" text-anchor="middle" font-weight="normal" fill="#000" >120</text>
<line x1="602.0" y1="1262.0" x2="602.0" y2="1275.9" stroke="#000" stroke-width="1.55" fill="none" stroke-linecap="butt"/>
<text transform="translate(601.6 1305.0) scale(1 1.045)" font-size="27.4" text-anchor="middle" font-weight="normal" fill="#000" >150</text>
<line x1="690.2" y1="1262.0" x2="690.2" y2="1275.9" stroke="#000" stroke-width="1.55" fill="none" stroke-linecap="butt"/>
<text transform="translate(689.8 1305.0) scale(1 1.045)" font-size="27.4" text-anchor="middle" font-weight="normal" fill="#000" >180</text>
<line x1="146.7" y1="907.9" x2="160.8" y2="907.9" stroke="#000" stroke-width="1.55" fill="none" stroke-linecap="butt"/>
<text transform="translate(141.8 916.2) scale(1 1.045)" font-size="27.4" text-anchor="end" font-weight="normal" fill="#000" >6</text>
<line x1="146.7" y1="958.5" x2="160.8" y2="958.5" stroke="#000" stroke-width="1.55" fill="none" stroke-linecap="butt"/>
<text transform="translate(141.8 966.8) scale(1 1.045)" font-size="27.4" text-anchor="end" font-weight="normal" fill="#000" >5</text>
<line x1="146.7" y1="1009.2" x2="160.8" y2="1009.2" stroke="#000" stroke-width="1.55" fill="none" stroke-linecap="butt"/>
<text transform="translate(141.8 1017.5) scale(1 1.045)" font-size="27.4" text-anchor="end" font-weight="normal" fill="#000" >4</text>
<line x1="146.7" y1="1059.8" x2="160.8" y2="1059.8" stroke="#000" stroke-width="1.55" fill="none" stroke-linecap="butt"/>
<text transform="translate(141.8 1068.1) scale(1 1.045)" font-size="27.4" text-anchor="end" font-weight="normal" fill="#000" >3</text>
<line x1="146.7" y1="1110.5" x2="160.8" y2="1110.5" stroke="#000" stroke-width="1.55" fill="none" stroke-linecap="butt"/>
<text transform="translate(141.8 1118.8) scale(1 1.045)" font-size="27.4" text-anchor="end" font-weight="normal" fill="#000" >2</text>
<line x1="146.7" y1="1161.2" x2="160.8" y2="1161.2" stroke="#000" stroke-width="1.55" fill="none" stroke-linecap="butt"/>
<text transform="translate(141.8 1169.5) scale(1 1.045)" font-size="27.4" text-anchor="end" font-weight="normal" fill="#000" >1</text>
<line x1="146.7" y1="1211.8" x2="160.8" y2="1211.8" stroke="#000" stroke-width="1.55" fill="none" stroke-linecap="butt"/>
<text transform="translate(141.8 1220.1) scale(1 1.045)" font-size="27.4" text-anchor="end" font-weight="normal" fill="#000" >0</text>
<line x1="146.7" y1="1262.5" x2="160.8" y2="1262.5" stroke="#000" stroke-width="1.55" fill="none" stroke-linecap="butt"/>
<text transform="translate(141.8 1270.8) scale(1 1.045)" font-size="27.4" text-anchor="end" font-weight="normal" fill="#000" >-1</text>
<rect x="154.0" y="1200.1" width="13.536" height="13.536" fill="#a5772f"/>
<rect x="154.0" y="1209.7" width="13.536" height="13.536" fill="#a5772f"/>
<rect x="166.1" y="1214.2" width="13.536" height="13.536" fill="#a5772f"/>
<rect x="166.1" y="1215.2" width="13.536" height="13.536" fill="#a5772f"/>
<rect x="180.9" y="1214.2" width="13.536" height="13.536" fill="#a5772f"/>
<rect x="180.9" y="1215.2" width="13.536" height="13.536" fill="#a5772f"/>
<rect x="195.6" y="1216.6" width="13.536" height="13.536" fill="#a5772f"/>
<rect x="195.6" y="1218.3" width="13.536" height="13.536" fill="#a5772f"/>
<rect x="210.4" y="1216.6" width="13.536" height="13.536" fill="#a5772f"/>
<rect x="210.4" y="1223.5" width="13.536" height="13.536" fill="#a5772f"/>
<rect x="238.1" y="1217.5" width="13.536" height="13.536" fill="#a5772f"/>
<rect x="238.1" y="1224.4" width="13.536" height="13.536" fill="#a5772f"/>
<rect x="280.8" y="1214.9" width="13.536" height="13.536" fill="#a5772f"/>
<rect x="280.8" y="1222.7" width="13.536" height="13.536" fill="#a5772f"/>
<rect x="323.6" y="1213.1" width="13.536" height="13.536" fill="#a5772f"/>
<rect x="323.6" y="1225.3" width="13.536" height="13.536" fill="#a5772f"/>
<rect x="368.7" y="1214.0" width="13.536" height="13.536" fill="#a5772f"/>
<rect x="368.7" y="1223.5" width="13.536" height="13.536" fill="#a5772f"/>
<rect x="412.9" y="1203.6" width="13.536" height="13.536" fill="#a5772f"/>
<rect x="412.9" y="1220.9" width="13.536" height="13.536" fill="#a5772f"/>
<rect x="460.2" y="1200.2" width="13.536" height="13.536" fill="#a5772f"/>
<rect x="460.2" y="1219.3" width="13.536" height="13.536" fill="#a5772f"/>
<rect x="500.9" y="1200.2" width="13.536" height="13.536" fill="#a5772f"/>
<rect x="500.9" y="1217.2" width="13.536" height="13.536" fill="#a5772f"/>
<rect x="592.8" y="1167.5" width="13.536" height="13.536" fill="#a5772f"/>
<rect x="592.8" y="1215.8" width="13.536" height="13.536" fill="#a5772f"/>
<circle cx="160.8" cy="1211.0" r="6.861999999999999" fill="#000"/>
<circle cx="160.8" cy="1213.0" r="6.861999999999999" fill="#000"/>
<circle cx="172.9" cy="1220.0" r="6.861999999999999" fill="#000"/>
<circle cx="172.9" cy="1221.0" r="6.861999999999999" fill="#000"/>
<circle cx="187.7" cy="1221.0" r="6.861999999999999" fill="#000"/>
<circle cx="187.7" cy="1222.0" r="6.861999999999999" fill="#000"/>
<circle cx="202.4" cy="1221.0" r="6.861999999999999" fill="#000"/>
<circle cx="202.4" cy="1222.0" r="6.861999999999999" fill="#000"/>
<circle cx="217.2" cy="1222.0" r="6.861999999999999" fill="#000"/>
<circle cx="217.2" cy="1223.0" r="6.861999999999999" fill="#000"/>
<circle cx="244.9" cy="1220.8" r="6.861999999999999" fill="#000"/>
<circle cx="244.9" cy="1226.0" r="6.861999999999999" fill="#000"/>
<circle cx="287.6" cy="1221.5" r="6.861999999999999" fill="#000"/>
<circle cx="287.6" cy="1222.0" r="6.861999999999999" fill="#000"/>
<circle cx="330.4" cy="1222.3" r="6.861999999999999" fill="#000"/>
<circle cx="330.4" cy="1222.8" r="6.861999999999999" fill="#000"/>
<circle cx="375.5" cy="1222.3" r="6.861999999999999" fill="#000"/>
<circle cx="375.5" cy="1222.8" r="6.861999999999999" fill="#000"/>
<circle cx="419.7" cy="1216.5" r="6.861999999999999" fill="#000"/>
<circle cx="419.7" cy="1224.3" r="6.861999999999999" fill="#000"/>
<circle cx="467.0" cy="1222.0" r="6.861999999999999" fill="#000"/>
<circle cx="467.0" cy="1225.0" r="6.861999999999999" fill="#000"/>
<circle cx="507.7" cy="1223.0" r="6.861999999999999" fill="#000"/>
<circle cx="507.7" cy="1223.5" r="6.861999999999999" fill="#000"/>
<circle cx="599.6" cy="1219.0" r="6.861999999999999" fill="#000"/>
<circle cx="599.6" cy="1219.5" r="6.861999999999999" fill="#000"/>
<polygon points="155.2,1211.0 160.8,1205.4 166.4,1211.0 160.8,1216.6" fill="#f58426"/>
<polygon points="155.2,1213.0 160.8,1207.4 166.4,1213.0 160.8,1218.6" fill="#f58426"/>
<polygon points="167.3,1222.0 172.9,1216.4 178.5,1222.0 172.9,1227.6" fill="#f58426"/>
<polygon points="167.3,1223.0 172.9,1217.4 178.5,1223.0 172.9,1228.6" fill="#f58426"/>
<polygon points="182.1,1224.0 187.7,1218.4 193.3,1224.0 187.7,1229.6" fill="#f58426"/>
<polygon points="182.1,1225.0 187.7,1219.4 193.3,1225.0 187.7,1230.6" fill="#f58426"/>
<polygon points="196.8,1226.0 202.4,1220.4 208.0,1226.0 202.4,1231.6" fill="#f58426"/>
<polygon points="196.8,1227.0 202.4,1221.4 208.0,1227.0 202.4,1232.6" fill="#f58426"/>
<polygon points="211.6,1224.0 217.2,1218.4 222.8,1224.0 217.2,1229.6" fill="#f58426"/>
<polygon points="211.6,1225.5 217.2,1219.9 222.8,1225.5 217.2,1231.1" fill="#f58426"/>
<polygon points="239.3,1223.0 244.9,1217.4 250.5,1223.0 244.9,1228.6" fill="#f58426"/>
<polygon points="239.3,1224.0 244.9,1218.4 250.5,1224.0 244.9,1229.6" fill="#f58426"/>
<polygon points="282.0,1220.5 287.6,1214.9 293.2,1220.5 287.6,1226.1" fill="#f58426"/>
<polygon points="282.0,1221.0 287.6,1215.4 293.2,1221.0 287.6,1226.6" fill="#f58426"/>
<polygon points="324.8,1222.5 330.4,1216.9 336.0,1222.5 330.4,1228.1" fill="#f58426"/>
<polygon points="324.8,1223.2 330.4,1217.6 336.0,1223.2 330.4,1228.8" fill="#f58426"/>
<polygon points="369.9,1221.7 375.5,1216.1 381.1,1221.7 375.5,1227.3" fill="#f58426"/>
<polygon points="369.9,1225.1 375.5,1219.5 381.1,1225.1 375.5,1230.7" fill="#f58426"/>
<polygon points="414.1,1216.5 419.7,1210.9 425.3,1216.5 419.7,1222.1" fill="#f58426"/>
<polygon points="414.1,1221.7 419.7,1216.1 425.3,1221.7 419.7,1227.3" fill="#f58426"/>
<polygon points="461.4,1215.5 467.0,1209.9 472.6,1215.5 467.0,1221.1" fill="#f58426"/>
<polygon points="461.4,1216.0 467.0,1210.4 472.6,1216.0 467.0,1221.6" fill="#f58426"/>
<polygon points="502.1,1215.0 507.7,1209.4 513.3,1215.0 507.7,1220.6" fill="#f58426"/>
<polygon points="502.1,1215.5 507.7,1209.9 513.3,1215.5 507.7,1221.1" fill="#f58426"/>
<polygon points="594.0,1211.7 599.6,1206.1 605.2,1211.7 599.6,1217.3" fill="#f58426"/>
<polygon points="594.0,1212.0 599.6,1206.4 605.2,1212.0 599.6,1217.6" fill="#f58426"/>
<polygon points="155.3,1205.5 166.3,1205.5 160.8,1216.5" fill="#c433ff"/>
<polygon points="155.3,1207.5 166.3,1207.5 160.8,1218.5" fill="#c433ff"/>
<polygon points="167.4,1213.5 178.4,1213.5 172.9,1224.5" fill="#c433ff"/>
<polygon points="167.4,1215.5 178.4,1215.5 172.9,1226.5" fill="#c433ff"/>
<polygon points="182.2,1215.5 193.2,1215.5 187.7,1226.5" fill="#c433ff"/>
<polygon points="182.2,1217.5 193.2,1217.5 187.7,1228.5" fill="#c433ff"/>
<polygon points="196.9,1216.5 207.9,1216.5 202.4,1227.5" fill="#c433ff"/>
<polygon points="196.9,1217.5 207.9,1217.5 202.4,1228.5" fill="#c433ff"/>
<polygon points="211.7,1213.6 222.7,1213.6 217.2,1224.6" fill="#c433ff"/>
<polygon points="211.7,1217.0 222.7,1217.0 217.2,1228.0" fill="#c433ff"/>
<polygon points="239.4,1210.1 250.4,1210.1 244.9,1221.1" fill="#c433ff"/>
<polygon points="239.4,1213.6 250.4,1213.6 244.9,1224.6" fill="#c433ff"/>
<polygon points="282.1,1209.2 293.1,1209.2 287.6,1220.2" fill="#c433ff"/>
<polygon points="282.1,1211.8 293.1,1211.8 287.6,1222.8" fill="#c433ff"/>
<polygon points="324.9,1204.9 335.9,1204.9 330.4,1215.9" fill="#c433ff"/>
<polygon points="324.9,1208.4 335.9,1208.4 330.4,1219.4" fill="#c433ff"/>
<polygon points="370.0,1193.6 381.0,1193.6 375.5,1204.6" fill="#c433ff"/>
<polygon points="370.0,1201.4 381.0,1201.4 375.5,1212.4" fill="#c433ff"/>
<polygon points="414.2,1192.8 425.2,1192.8 419.7,1203.8" fill="#c433ff"/>
<polygon points="414.2,1198.8 425.2,1198.8 419.7,1209.8" fill="#c433ff"/>
<polygon points="461.5,1189.8 472.5,1189.8 467.0,1200.8" fill="#c433ff"/>
<polygon points="461.5,1194.6 472.5,1194.6 467.0,1205.6" fill="#c433ff"/>
<polygon points="502.2,1184.2 513.2,1184.2 507.7,1195.2" fill="#c433ff"/>
<polygon points="502.2,1192.0 513.2,1192.0 507.7,1203.0" fill="#c433ff"/>
<polygon points="594.1,1180.7 605.1,1180.7 599.6,1191.7" fill="#c433ff"/>
<polygon points="594.1,1192.0 605.1,1192.0 599.6,1203.0" fill="#c433ff"/>
<polygon points="155.3,1216.5 166.3,1216.5 160.8,1205.5" fill="#4be31c"/>
<polygon points="155.3,1218.5 166.3,1218.5 160.8,1207.5" fill="#4be31c"/>
<polygon points="167.4,1223.5 178.4,1223.5 172.9,1212.5" fill="#4be31c"/>
<polygon points="167.4,1225.5 178.4,1225.5 172.9,1214.5" fill="#4be31c"/>
<polygon points="182.2,1226.5 193.2,1226.5 187.7,1215.5" fill="#4be31c"/>
<polygon points="182.2,1227.5 193.2,1227.5 187.7,1216.5" fill="#4be31c"/>
<polygon points="196.9,1217.6 207.9,1217.6 202.4,1206.6" fill="#4be31c"/>
<polygon points="196.9,1221.1 207.9,1221.1 202.4,1210.1" fill="#4be31c"/>
<polygon points="211.7,1209.8 222.7,1209.8 217.2,1198.8" fill="#4be31c"/>
<polygon points="211.7,1215.0 222.7,1215.0 217.2,1204.0" fill="#4be31c"/>
<polygon points="239.4,1195.1 250.4,1195.1 244.9,1184.1" fill="#4be31c"/>
<polygon points="239.4,1201.2 250.4,1201.2 244.9,1190.2" fill="#4be31c"/>
<polygon points="282.1,1178.6 293.1,1178.6 287.6,1167.6" fill="#4be31c"/>
<polygon points="282.1,1182.1 293.1,1182.1 287.6,1171.1" fill="#4be31c"/>
<polygon points="324.9,1151.4 335.9,1151.4 330.4,1140.4" fill="#4be31c"/>
<polygon points="324.9,1164.7 335.9,1164.7 330.4,1153.7" fill="#4be31c"/>
<polygon points="370.0,1135.8 381.0,1135.8 375.5,1124.8" fill="#4be31c"/>
<polygon points="370.0,1143.1 381.0,1143.1 375.5,1132.1" fill="#4be31c"/>
<polygon points="414.2,1102.0 425.2,1102.0 419.7,1091.0" fill="#4be31c"/>
<polygon points="414.2,1117.6 425.2,1117.6 419.7,1106.6" fill="#4be31c"/>
<polygon points="461.5,1083.1 472.5,1083.1 467.0,1072.1" fill="#4be31c"/>
<polygon points="461.5,1085.7 472.5,1085.7 467.0,1074.7" fill="#4be31c"/>
<polygon points="502.2,1061.6 513.2,1061.6 507.7,1050.6" fill="#4be31c"/>
<polygon points="502.2,1071.5 513.2,1071.5 507.7,1060.5" fill="#4be31c"/>
<polygon points="594.1,1042.5 605.1,1042.5 599.6,1031.5" fill="#4be31c"/>
<polygon points="594.1,1052.4 605.1,1052.4 599.6,1041.4" fill="#4be31c"/>
<rect x="155.3" y="1203.2" width="11.092" height="11.092" fill="#ff2712"/>
<rect x="155.3" y="1209.2" width="11.092" height="11.092" fill="#ff2712"/>
<rect x="167.4" y="1207.5" width="11.092" height="11.092" fill="#ff2712"/>
<rect x="167.4" y="1211.0" width="11.092" height="11.092" fill="#ff2712"/>
<rect x="182.2" y="1197.6" width="11.092" height="11.092" fill="#ff2712"/>
<rect x="182.2" y="1205.4" width="11.092" height="11.092" fill="#ff2712"/>
<rect x="196.9" y="1194.5" width="11.092" height="11.092" fill="#ff2712"/>
<rect x="196.9" y="1196.7" width="11.092" height="11.092" fill="#ff2712"/>
<rect x="211.7" y="1175.8" width="11.092" height="11.092" fill="#ff2712"/>
<rect x="211.7" y="1181.5" width="11.092" height="11.092" fill="#ff2712"/>
<rect x="239.4" y="1148.5" width="11.092" height="11.092" fill="#ff2712"/>
<rect x="239.4" y="1148.9" width="11.092" height="11.092" fill="#ff2712"/>
<rect x="282.1" y="1100.9" width="11.092" height="11.092" fill="#ff2712"/>
<rect x="282.1" y="1112.5" width="11.092" height="11.092" fill="#ff2712"/>
<rect x="324.9" y="1061.1" width="11.092" height="11.092" fill="#ff2712"/>
<rect x="324.9" y="1073.0" width="11.092" height="11.092" fill="#ff2712"/>
<rect x="370.0" y="1004.1" width="11.092" height="11.092" fill="#ff2712"/>
<rect x="370.0" y="1031.9" width="11.092" height="11.092" fill="#ff2712"/>
<rect x="414.2" y="973.8" width="11.092" height="11.092" fill="#ff2712"/>
<rect x="414.2" y="992.4" width="11.092" height="11.092" fill="#ff2712"/>
<rect x="461.5" y="956.5" width="11.092" height="11.092" fill="#ff2712"/>
<rect x="461.5" y="982.5" width="11.092" height="11.092" fill="#ff2712"/>
<rect x="502.2" y="934.4" width="11.092" height="11.092" fill="#ff2712"/>
<rect x="502.2" y="944.1" width="11.092" height="11.092" fill="#ff2712"/>
<rect x="594.1" y="917.1" width="11.092" height="11.092" fill="#ff2712"/>
<rect x="594.1" y="931.3" width="11.092" height="11.092" fill="#ff2712"/>
<circle cx="160.8" cy="1209.0" r="5.546" fill="#1500ff"/>
<circle cx="160.8" cy="1213.0" r="5.546" fill="#1500ff"/>
<circle cx="172.9" cy="1202.6" r="5.546" fill="#1500ff"/>
<circle cx="172.9" cy="1209.5" r="5.546" fill="#1500ff"/>
<circle cx="187.7" cy="1188.2" r="5.546" fill="#1500ff"/>
<circle cx="187.7" cy="1188.6" r="5.546" fill="#1500ff"/>
<circle cx="202.4" cy="1154.9" r="5.546" fill="#1500ff"/>
<circle cx="202.4" cy="1167.9" r="5.546" fill="#1500ff"/>
<circle cx="217.2" cy="1123.7" r="5.546" fill="#1500ff"/>
<circle cx="217.2" cy="1136.4" r="5.546" fill="#1500ff"/>
<circle cx="244.9" cy="1066.3" r="5.546" fill="#1500ff"/>
<circle cx="244.9" cy="1078.2" r="5.546" fill="#1500ff"/>
<circle cx="287.6" cy="1014.7" r="5.546" fill="#1500ff"/>
<circle cx="287.6" cy="1034.6" r="5.546" fill="#1500ff"/>
<circle cx="330.4" cy="1004.8" r="5.546" fill="#1500ff"/>
<circle cx="330.4" cy="1027.0" r="5.546" fill="#1500ff"/>
<circle cx="375.5" cy="985.5" r="5.546" fill="#1500ff"/>
<circle cx="375.5" cy="1013.6" r="5.546" fill="#1500ff"/>
<circle cx="419.7" cy="967.2" r="5.546" fill="#1500ff"/>
<circle cx="419.7" cy="987.1" r="5.546" fill="#1500ff"/>
<circle cx="467.0" cy="981.9" r="5.546" fill="#1500ff"/>
<circle cx="467.0" cy="984.5" r="5.546" fill="#1500ff"/>
<circle cx="507.7" cy="968.4" r="5.546" fill="#1500ff"/>
<circle cx="507.7" cy="975.5" r="5.546" fill="#1500ff"/>
<circle cx="599.6" cy="959.5" r="5.546" fill="#1500ff"/>
<circle cx="599.6" cy="978.1" r="5.546" fill="#1500ff"/>
<text transform="translate(101.3 1085.2) rotate(-90)" font-size="29.8" text-anchor="middle">Glutamate produced, µM</text>
<text x="425.5" y="1345.0" font-size="29.8" text-anchor="middle" font-weight="normal" fill="#000" >Time, min</text>
<text x="752.6" y="888.5" font-size="30.1" text-anchor="start" font-weight="normal" fill="#000" letter-spacing="0.15">PPAT, nM</text>
<circle cx="790.0" cy="931.7" r="5.546" fill="#1500ff"/>
<text transform="translate(829.3 941.2) scale(1 1.045)" font-size="29.8" text-anchor="start" font-weight="normal" fill="#000" >25</text>
<rect x="784.5" y="973.4" width="11.092" height="11.092" fill="#ff2712"/>
<text transform="translate(829.3 988.4) scale(1 1.045)" font-size="29.8" text-anchor="start" font-weight="normal" fill="#000" >10</text>
<polygon points="784.5,1031.6 795.5,1031.6 790.0,1020.6" fill="#4be31c"/>
<text transform="translate(829.3 1035.6) scale(1 1.045)" font-size="29.8" text-anchor="start" font-weight="normal" fill="#000" >5</text>
<polygon points="784.5,1067.8 795.5,1067.8 790.0,1078.8" fill="#c433ff"/>
<text transform="translate(829.3 1082.8) scale(1 1.045)" font-size="29.8" text-anchor="start" font-weight="normal" fill="#000" >1</text>
<polygon points="784.4,1120.5 790.0,1114.9 795.6,1120.5 790.0,1126.1" fill="#f58426"/>
<text transform="translate(829.3 1130.0) scale(1 1.045)" font-size="29.8" text-anchor="start" font-weight="normal" fill="#000" >0.5</text>
<circle cx="790.0" cy="1167.7" r="6.861999999999999" fill="#000"/>
<text transform="translate(829.3 1177.2) scale(1 1.045)" font-size="29.8" text-anchor="start" font-weight="normal" fill="#000" >0.1</text>
<rect x="783.2" y="1208.1" width="13.536" height="13.536" fill="#a5772f"/>
<text transform="translate(829.3 1224.4) scale(1 1.045)" font-size="29.8" text-anchor="start" font-weight="normal" fill="#000" >0</text>
</g>
<text x="-1.0" y="24.0" font-size="33.5" text-anchor="start" font-weight="bold" fill="#000" >a</text>
<text x="906.6" y="24.0" font-size="33.5" text-anchor="start" font-weight="bold" fill="#000" >b</text>
<text x="-0.7" y="430.4" font-size="33.5" text-anchor="start" font-weight="bold" fill="#000" >c</text>
<text x="-1.5" y="903.0" font-size="33.5" text-anchor="start" font-weight="bold" fill="#000" >d</text>
<text x="906.5" y="837.6" font-size="33.5" text-anchor="start" font-weight="bold" fill="#000" >e</text>
<g class="hv">
<line x1="998.7" y1="942.8" x2="1662.6" y2="942.8" stroke="#7f7f7f" stroke-width="1.4"/>
<line x1="998.7" y1="1019.8" x2="1662.6" y2="1019.8" stroke="#7f7f7f" stroke-width="1.4"/>
<line x1="998.7" y1="1181.6" x2="1662.6" y2="1181.6" stroke="#000" stroke-width="1.4"/>
<text transform="translate(1081.5 992.8) scale(1 1.06)" font-size="28.4" text-anchor="middle" font-weight="bold" letter-spacing="0.45">Compound</text>
<text transform="translate(1247.1 973.3) scale(1 1.06)" font-size="28.4" text-anchor="middle" font-weight="bold" letter-spacing="0.2"><tspan font-style="italic">Mt</tspan>PurF</text>
<text transform="translate(1247.2 1013.0) scale(1 1.06)" font-size="28.4" text-anchor="middle" font-weight="bold" letter-spacing="0.3">(µM)</text>
<text transform="translate(1414.5 973.3) scale(1 1.06)" font-size="28.4" text-anchor="middle" font-weight="bold" letter-spacing="0.9"><tspan font-style="italic">Hs</tspan>PPAT</text>
<text transform="translate(1414.2 1013.0) scale(1 1.06)" font-size="28.4" text-anchor="middle" font-weight="bold" letter-spacing="0.3">(µM)</text>
<text transform="translate(1580.4 973.3) scale(1 1.06)" font-size="28.4" text-anchor="middle" font-weight="bold" letter-spacing="0.4">Fold</text>
<text transform="translate(1580.3 1013.0) scale(1 1.06)" font-size="28.4" text-anchor="middle" font-weight="bold" letter-spacing="0.25">Selectivity</text>
<text transform="translate(1081.5 1058.9) scale(1 1.06)" font-size="28.4" text-anchor="middle" font-weight="normal" letter-spacing="0.3">JNJ-6640</text>
<text transform="translate(1247.2 1058.9) scale(1 1.06)" font-size="28.4" text-anchor="middle" font-weight="normal" letter-spacing="0.3">0.0010</text>
<text transform="translate(1414.2 1058.9) scale(1 1.06)" font-size="28.4" text-anchor="middle" font-weight="normal" letter-spacing="0.3">&gt;14</text>
<text transform="translate(1580.4 1058.9) scale(1 1.06)" font-size="28.4" text-anchor="middle" font-weight="normal" letter-spacing="0.3">&gt;10,000</text>
<text transform="translate(1081.5 1112.8) scale(1 1.06)" font-size="28.4" text-anchor="middle" font-weight="normal" letter-spacing="0.3">JNJ-6627</text>
<text transform="translate(1247.2 1112.8) scale(1 1.06)" font-size="28.4" text-anchor="middle" font-weight="normal" letter-spacing="0.3">0.0018</text>
<text transform="translate(1414.2 1112.8) scale(1 1.06)" font-size="28.4" text-anchor="middle" font-weight="normal" letter-spacing="0.3">&gt;20</text>
<text transform="translate(1580.4 1112.8) scale(1 1.06)" font-size="28.4" text-anchor="middle" font-weight="normal" letter-spacing="0.3">&gt;11,000</text>
<text transform="translate(1081.5 1166.1) scale(1 1.06)" font-size="28.4" text-anchor="middle" font-weight="normal" letter-spacing="0.3">JNJ-0999</text>
<text transform="translate(1247.2 1166.1) scale(1 1.06)" font-size="28.4" text-anchor="middle" font-weight="normal" letter-spacing="0.3">0.0060</text>
<text transform="translate(1414.2 1166.1) scale(1 1.06)" font-size="28.4" text-anchor="middle" font-weight="normal" letter-spacing="0.3">&gt;50</text>
<text transform="translate(1580.4 1166.1) scale(1 1.06)" font-size="28.4" text-anchor="middle" font-weight="normal" letter-spacing="0.3">&gt;8,333</text>
</g>
</svg>
</body>
</html>
